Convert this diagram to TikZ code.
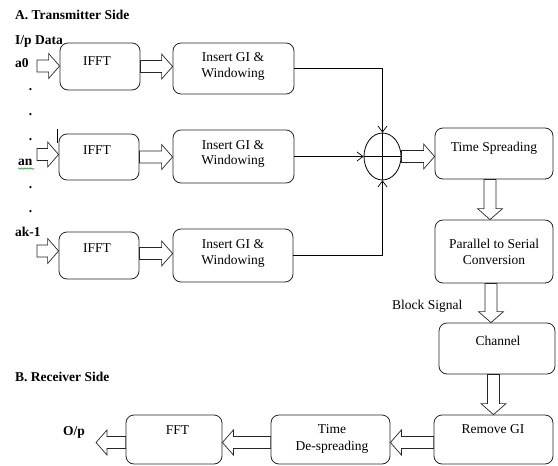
\documentclass[tikz,border=0pt]{standalone}
\usepackage{fontspec}
\setmainfont{Liberation Serif}
\usetikzlibrary{calc,shapes.geometric,arrows.meta,decorations.pathmorphing}
\tikzset{
 box/.style={draw=black!85, line width=0.8pt, rounded corners=8pt, inner sep=0pt},
 txt/.style={anchor=base, inner sep=0pt, font=\fontsize{13.5}{15.5}\selectfont},
 btxt/.style={anchor=base west, inner sep=0pt, font=\fontsize{13.5}{15.5}\selectfont\bfseries},
 wire/.style={draw, line width=0.7pt},
 tipped/.style={-{Straight Barb[length=6pt,width=9pt]}},
 barr/.style={draw=black!85, line width=0.7pt, fill=white},
}
\newcommand\boxat[5]{\node[box, minimum width={#4-#2}, minimum height={#5-#3}] (#1) at ({(#2+#4)/2},{(#3+#5)/2}) {};}
\newcommand\blockarrow[2]{%
 \draw[barr] ($(#1)!6pt!-90:(#2)$) -- ($($(#2)!11pt!(#1)$)!6pt!90:(#1)$) -- ($($(#2)!11pt!(#1)$)!12.5pt!90:(#1)$) -- (#2) -- ($($(#2)!11pt!(#1)$)!12.5pt!-90:(#1)$) -- ($($(#2)!11pt!(#1)$)!6pt!-90:(#1)$) -- ($(#1)!6pt!90:(#2)$) -- cycle;}
\begin{document}
\begin{tikzpicture}[x=1pt,y=-1pt]
\useasboundingbox (0,0) rectangle (558,466);
% boxes
\boxat{ifft1}{60}{43}{140}{90}
\boxat{ins1}{173}{43}{294}{94}
\boxat{ifft2}{59}{134}{139}{180}
\boxat{ins2}{173}{130}{294}{183}
\boxat{ifft3}{59}{232}{139}{279}
\boxat{ins3}{173}{229}{293}{282}
\boxat{ts}{435}{128}{553}{179}
\boxat{ps}{435}{220}{553}{283}
\boxat{ch}{439}{323}{555}{374}
\boxat{rg}{434}{415}{553}{464}
\boxat{td}{271}{415}{390}{464}
\boxat{fft}{126}{415}{222}{464}
\node[ellipse, draw, line width=0.8pt, minimum width=37pt, minimum height=47pt, inner sep=0pt] (sum) at (382.5,156.5) {};
\draw[wire] (sum.north) -- (sum.south);
\draw[wire] (sum.west) -- (sum.east);
% box texts
\node[txt] (t1) at (97,65.7) {IFFT};
\node[txt] (t2) at (97,154.3) {IFFT};
\node[txt] (t3) at (97,252) {IFFT};
\node[txt] (t4a) at (233,61.7) {Insert GI \&};
\node[txt] (t4b) at (233,77) {Windowing};
\node[txt] (t5a) at (233,149) {Insert GI \&};
\node[txt] (t5b) at (233,164.5) {Windowing};
\node[txt] (t6a) at (233,248.3) {Insert GI \&};
\node[txt] (t6b) at (233,264) {Windowing};
\node[txt] (t7) at (494,151.7) {Time Spreading};
\node[txt] (t8a) at (494,248.3) {Parallel to Serial};
\node[txt] (t8b) at (494,264) {Conversion};
\node[txt] (t9) at (498,345) {Channel};
\node[txt] (t10) at (493,433.3) {Remove GI};
\node[txt] (t11a) at (332,433.3) {Time};
\node[txt] (t11b) at (332,450) {De-spreading};
\node[txt] (t12) at (177.5,434) {FFT};
% side labels
\node[btxt] (la) at (15,19.5) {A. Transmitter Side};
\node[btxt] (lip) at (15,44.3) {I/p Data};
\node[btxt] (la0) at (15,67.7) {a0};
\node[btxt] (lan) at (18,165) {an};
\node[btxt] (lak) at (15,236.8) {ak-1};
\node[btxt] (lb) at (15,381.7) {B. Receiver Side};
\node[btxt] (lop) at (63,435) {O/p};
\node[txt, anchor=base west] (lbs) at (392,309) {Block Signal};
\foreach \yy [count=\i] in {90,115,140,188,212}
  \node[btxt, anchor=base] (dot\i) at (30.5,\yy) {.};
% cursor and spell mark
\draw[line width=0.8pt] (57,129) -- (57,143);
\draw[green!60!black, line width=0.5pt, decorate, decoration={snake, amplitude=0.7pt, segment length=3pt}] (18,168.5) -- (34,168.5);
% thin connectors
\draw[wire, tipped] (ins1.east) -| (sum.north);
\draw[wire, tipped] (ins2.east) -- (sum.west);
\draw[wire, tipped] (ins3.east) -| (sum.south);
% block arrow endpoints
\coordinate (in1) at (37,66);
\coordinate (in1e) at (in1 -| ifft1.west);
\coordinate (in2) at (37,154.5);
\coordinate (in2e) at (in2 -| ifft2.west);
\coordinate (in3) at (37,251);
\coordinate (in3e) at (in3 -| ifft3.west);
\coordinate (a1) at (ifft1.east);
\coordinate (a1e) at (a1 -| ins1.west);
\coordinate (a2) at (ifft2.east);
\coordinate (a2e) at (a2 -| ins2.west);
\coordinate (a3) at ($(ifft3.east)+(0,-2)$);
\coordinate (a3e) at (a3 -| ins3.west);
\coordinate (b1) at (sum.east);
\coordinate (b1e) at (b1 -| ts.west);
\coordinate (c1) at ($(ts.south)+(-4,0)$);
\coordinate (c1e) at (c1 |- ps.north);
\coordinate (c2) at ($(ps.south)+(-3,0)$);
\coordinate (c2e) at (c2 |- ch.north);
\coordinate (c3) at ($(ch.south)+(-3.5,0)$);
\coordinate (c3e) at (c3 |- rg.north);
\coordinate (d1) at ($(rg.west)+(0,3)$);
\coordinate (d1e) at (d1 -| td.east);
\coordinate (d2) at ($(td.west)+(0,3)$);
\coordinate (d2e) at (d2 -| fft.east);
\coordinate (d3) at ($(fft.west)+(0,3)$);
\coordinate (out) at (96,442.5);
\blockarrow{in1}{in1e}
\blockarrow{in2}{in2e}
\blockarrow{in3}{in3e}
\blockarrow{a1}{a1e}
\blockarrow{a2}{a2e}
\blockarrow{a3}{a3e}
\blockarrow{b1}{b1e}
\blockarrow{c1}{c1e}
\blockarrow{c2}{c2e}
\blockarrow{c3}{c3e}
\blockarrow{d1}{d1e}
\blockarrow{d2}{d2e}
\blockarrow{d3}{out}
\end{tikzpicture}
\end{document}
